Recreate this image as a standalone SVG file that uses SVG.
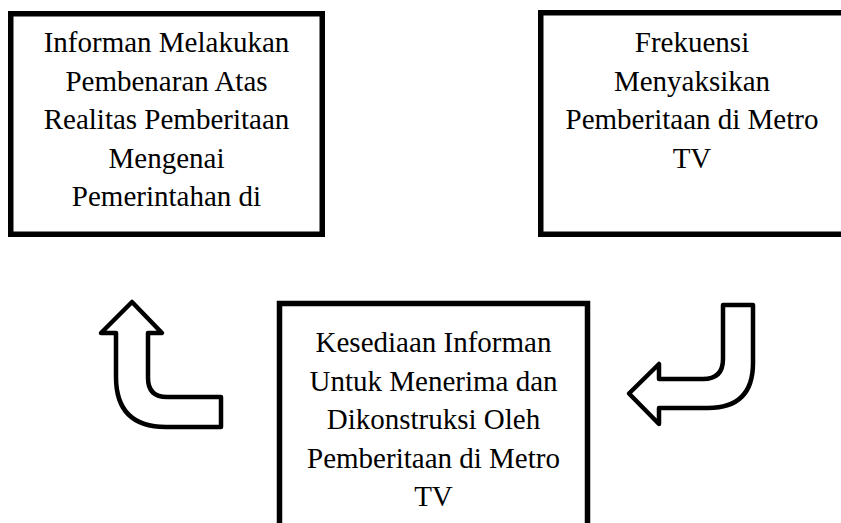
<svg xmlns="http://www.w3.org/2000/svg" width="841" height="523" viewBox="0 0 841 523">
<style>
.box{fill:#fff;stroke:#000;stroke-width:5.5}
.t{font-family:"Liberation Serif","Times New Roman",serif;font-size:29px;fill:#000;text-anchor:middle}
.arr{fill:#fff;stroke:#000;stroke-width:4.5;stroke-linejoin:round}
</style>
<rect width="841" height="523" fill="#fff"/>
<g id="node-pembenaran">
<rect class="box" x="10.75" y="13.75" width="311.5" height="220.5"/>
<text class="t" x="166.5" y="52">Informan Melakukan</text>
<text class="t" x="166.5" y="90.5">Pembenaran Atas</text>
<text class="t" x="166.5" y="129">Realitas Pemberitaan</text>
<text class="t" x="166.5" y="167.5">Mengenai</text>
<text class="t" x="166.5" y="206">Pemerintahan di</text>
</g>
<g id="node-frekuensi">
<rect class="box" x="540.75" y="12.75" width="320" height="221.5"/>
<text class="t" x="692" y="52">Frekuensi</text>
<text class="t" x="692" y="90.5">Menyaksikan</text>
<text class="t" x="692" y="129">Pemberitaan di Metro</text>
<text class="t" x="692" y="167.5">TV</text>
</g>
<g id="node-kesediaan">
<rect class="box" x="279.5" y="303.5" width="308" height="250"/>
<text class="t" x="433.5" y="352">Kesediaan Informan</text>
<text class="t" x="433.5" y="390.5">Untuk Menerima dan</text>
<text class="t" x="433.5" y="429">Dikonstruksi Oleh</text>
<text class="t" x="433.5" y="467.5">Pemberitaan di Metro</text>
<text class="t" x="433.5" y="506">TV</text>
</g>
<g id="connectors">
<path class="arr" d="M132 302 L162 333 L148 333 L148 378 Q148 397 167 397 L221 397 L221 427 L166 427 Q116 427 116 377 L116 333 L101 333 Z"/>
<path class="arr" d="M629 393.5 L659 364 L659 379 L703 379 Q723 379 723 359 L723 305 L753 305 L753 363 Q753 408 708 408 L659 408 L659 424 Z"/>
</g>
</svg>
